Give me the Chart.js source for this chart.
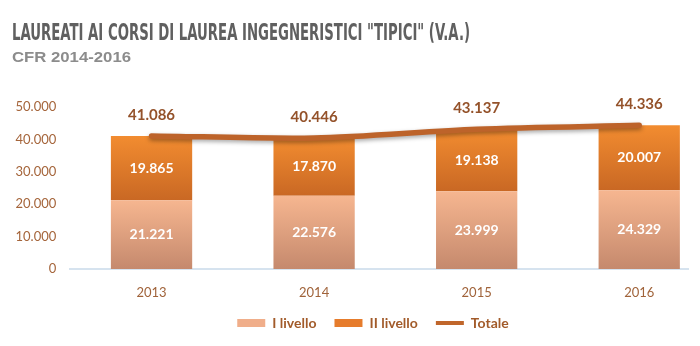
<!DOCTYPE html>
<html>
<head>
<meta charset="utf-8">
<script src="https://cdn.jsdelivr.net/npm/chart.js@4"></script>
<style>
  html, body { margin: 0; padding: 0; background: #fff; overflow: hidden; }
  #wrap { position: relative; width: 700px; height: 346px; }
  #chart { position: absolute; left: 0; top: 0; }
  .title { position: absolute; left: 12px; top: 21px; font-family: "Liberation Sans Narrow", "DejaVu Sans Condensed", sans-serif;
    font-weight: bold; font-size: 23px; line-height: 23px; color: #606060; white-space: nowrap; transform-origin: 0 0; }
  .subtitle { position: absolute; left: 12px; top: 49px; font-family: "Liberation Sans", Arial, sans-serif; font-weight: bold;
    font-size: 15px; line-height: 15px; color: #8c8c8c; white-space: nowrap; transform-origin: 0 0; }
</style>
</head>
<body>
<div id="wrap">
  <canvas id="chart" width="700" height="346"></canvas>
  <div class="title" id="title">LAUREATI AI CORSI DI LAUREA INGEGNERISTICI "TIPICI" (V.A.)</div>
  <div class="subtitle" id="subtitle">CFR 2014-2016</div>
</div>
<script>
const years = ["2013", "2014", "2015", "2016"];
const primoLivello = [21221, 22576, 23999, 24329];
const secondoLivello = [19865, 17870, 19138, 20007];
const totale = [41086, 40446, 43137, 44336];
const yTicks = [0, 10000, 20000, 30000, 40000, 50000];

// stretch the heading texts to the width they take in the picture
function fitWidth(id, w) {
  const el = document.getElementById(id);
  const real = el.getBoundingClientRect().width;
  el.style.transform = "scaleX(" + (w / real) + ")";
}
fitWidth("title", 458);
fitWidth("subtitle", 119);

function fmt(v) {
  return String(v).replace(/\B(?=(\d{3})+(?!\d))/g, ".");
}

function segGradient(ctx, top, bottom, c1, c2) {
  const chart = ctx.chart;
  if (!chart.chartArea || !chart.scales.y) return c1;
  const y = chart.scales.y;
  const g = chart.ctx.createLinearGradient(0, y.getPixelForValue(top), 0, y.getPixelForValue(bottom));
  g.addColorStop(0, c1);
  g.addColorStop(1, c2);
  return g;
}

const labelsPlugin = {
  id: "valueLabels",
  afterLayout(chart) {
    // legend sits a bit right of the canvas centre
    chart.legend.left += 29;
    chart.legend.right += 29;
  },
  afterDatasetsDraw(chart) {
    const ctx = chart.ctx;
    ctx.save();
    ctx.textAlign = "center";
    ctx.textBaseline = "middle";
    ctx.font = "bold 14px Lato, 'Open Sans', sans-serif";
    ctx.fillStyle = "#ffffff";
    [0, 1].forEach(d => {
      const vals = d === 0 ? primoLivello : secondoLivello;
      chart.getDatasetMeta(d).data.forEach((el, i) => {
        ctx.fillText(fmt(vals[i]), el.x, (el.y + el.base) / 2);
      });
    });
    ctx.font = "bold 15px Lato, 'Open Sans', sans-serif";
    ctx.fillStyle = "#94522a";
    chart.getDatasetMeta(2).data.forEach((pt, i) => {
      ctx.fillText(fmt(totale[i]), chart.getDatasetMeta(0).data[i].x, pt.y - 21);
    });
    ctx.restore();
  }
};

const shadowPlugin = {
  id: "lineShadow",
  beforeDatasetDraw(chart, args) {
    if (args.index !== 2) return;
    const ctx = chart.ctx;
    ctx.save();
    ctx.shadowColor = "rgba(0,0,0,0.35)";
    ctx.shadowBlur = 4;
    ctx.shadowOffsetY = 2;
  },
  afterDatasetDraw(chart, args) {
    if (args.index !== 2) return;
    chart.ctx.restore();
  }
};

new Chart(document.getElementById("chart"), {
  type: "bar",
  data: {
    datasets: [
      {
        label: "I livello",
        data: primoLivello.map((v, i) => ({ x: i, y: v })),
        backgroundColor: c => segGradient(c, primoLivello[c.dataIndex], 0, "#f6b690", "#c5896d"),
        barPercentage: 1,
        categoryPercentage: 0.5,
        stack: "livelli",
        order: 1
      },
      {
        label: "II livello",
        data: secondoLivello.map((v, i) => ({ x: i, y: v })),
        backgroundColor: c => segGradient(c, primoLivello[c.dataIndex] + secondoLivello[c.dataIndex], primoLivello[c.dataIndex], "#f28c30", "#c96824"),
        barPercentage: 1,
        categoryPercentage: 0.5,
        stack: "livelli",
        order: 1
      },
      {
        type: "line",
        label: "Totale",
        data: totale.map((v, i) => ({ x: i, y: v })),
        borderColor: "#bd632a",
        borderWidth: 5.5,
        borderCapStyle: "round",
        pointRadius: 0,
        tension: 0.3,
        fill: false,
        stack: "totale",
        order: 0
      }
    ]
  },
  options: {
    responsive: false,
    animation: false,
    layout: { padding: { top: 107, left: 0, right: 12, bottom: 6 } },
    scales: {
      x: {
        type: "linear",
        offset: false,
        min: -0.5,
        max: 3.3,
        stacked: true,
        afterBuildTicks: s => { s.ticks = years.map((y, i) => ({ value: i })); },
        afterFit: s => { s.height = 29; },
        grid: { display: false, drawTicks: false },
        border: { display: true, color: "#d6e3ef", width: 2 },
        ticks: {
          padding: 16,
          color: "#a0633a",
          font: { family: "Lato", size: 13 },
          callback: v => years[v]
        }
      },
      y: {
        stacked: true,
        min: 0,
        max: 50000,
        afterBuildTicks: s => { s.ticks = yTicks.map(v => ({ value: v })); },
        afterFit: s => { s.width = 70.25; },
        grid: { display: false, drawTicks: false },
        border: { display: false },
        ticks: {
          padding: 14,
          color: "#a5653b",
          font: { family: "Lato", size: 13 },
          callback: v => fmt(v)
        }
      }
    },
    plugins: {
      tooltip: { enabled: false },
      legend: {
        position: "bottom",
        labels: {
          usePointStyle: true,
          pointStyleWidth: 28,
          boxWidth: 28,
          boxHeight: 8,
          padding: 18,
          color: "#a25b2a",
          font: { family: "Lato", size: 14, weight: "bold" },
          generateLabels: () => [
            { text: "I livello", fillStyle: "#f0ae8a", strokeStyle: "#f0ae8a", lineWidth: 0, pointStyle: "rect", datasetIndex: 0, fontColor: "#a25b2a" },
            { text: "II livello", fillStyle: "#e67c2c", strokeStyle: "#e67c2c", lineWidth: 0, pointStyle: "rect", datasetIndex: 1, fontColor: "#a25b2a" },
            { text: "Totale", fillStyle: "#c0662b", strokeStyle: "#c0662b", lineWidth: 4, pointStyle: "line", datasetIndex: 2, fontColor: "#a25b2a" }
          ]
        }
      }
    }
  },
  plugins: [labelsPlugin, shadowPlugin]
});
</script>
</body>
</html>
